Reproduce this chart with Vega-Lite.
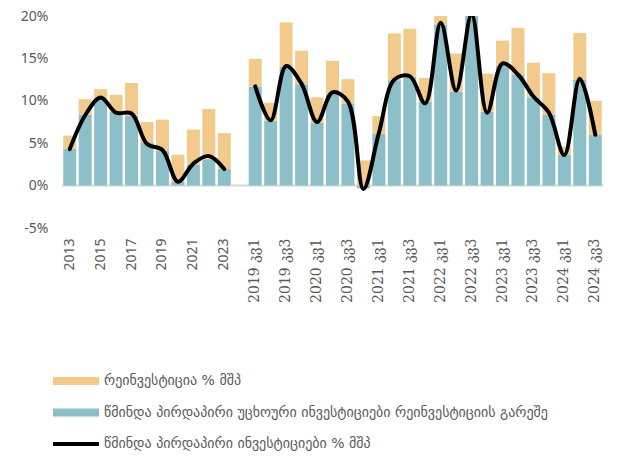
{
  "$schema": "https://vega.github.io/schema/vega-lite/v6.json",
  "autosize": "none",
  "width": 541,
  "height": 212,
  "padding": {"left": 62, "top": 16, "right": 16, "bottom": 229},
  "background": "white",
  "config": {"view": {"stroke": null}},
  "datasets": {
    "bars": [
      {"cat": "2013", "period": "annual", "series": "წმინდა პირდაპირი უცხოური ინვესტიციები რეინვესტიციის გარეშე", "value": 4.35},
      {"cat": "2013", "period": "annual", "series": "რეინვესტიცია % მშპ", "value": 1.55},
      {"cat": "2014", "period": "annual", "series": "წმინდა პირდაპირი უცხოური ინვესტიციები რეინვესტიციის გარეშე", "value": 8.33},
      {"cat": "2014", "period": "annual", "series": "რეინვესტიცია % მშპ", "value": 1.87},
      {"cat": "2015", "period": "annual", "series": "წმინდა პირდაპირი უცხოური ინვესტიციები რეინვესტიციის გარეშე", "value": 10.2},
      {"cat": "2015", "period": "annual", "series": "რეინვესტიცია % მშპ", "value": 1.17},
      {"cat": "2016", "period": "annual", "series": "წმინდა პირდაპირი უცხოური ინვესტიციები რეინვესტიციის გარეშე", "value": 8.7},
      {"cat": "2016", "period": "annual", "series": "რეინვესტიცია % მშპ", "value": 2.0},
      {"cat": "2017", "period": "annual", "series": "წმინდა პირდაპირი უცხოური ინვესტიციები რეინვესტიციის გარეშე", "value": 8.25},
      {"cat": "2017", "period": "annual", "series": "რეინვესტიცია % მშპ", "value": 3.85},
      {"cat": "2018", "period": "annual", "series": "წმინდა პირდაპირი უცხოური ინვესტიციები რეინვესტიციის გარეშე", "value": 5.1},
      {"cat": "2018", "period": "annual", "series": "რეინვესტიცია % მშპ", "value": 2.4},
      {"cat": "2019", "period": "annual", "series": "წმინდა პირდაპირი უცხოური ინვესტიციები რეინვესტიციის გარეშე", "value": 4.08},
      {"cat": "2019", "period": "annual", "series": "რეინვესტიცია % მშპ", "value": 3.7},
      {"cat": "2020", "period": "annual", "series": "წმინდა პირდაპირი უცხოური ინვესტიციები რეინვესტიციის გარეშე", "value": 0.45},
      {"cat": "2020", "period": "annual", "series": "რეინვესტიცია % მშპ", "value": 3.19},
      {"cat": "2021", "period": "annual", "series": "წმინდა პირდაპირი უცხოური ინვესტიციები რეინვესტიციის გარეშე", "value": 2.46},
      {"cat": "2021", "period": "annual", "series": "რეინვესტიცია % მშპ", "value": 4.14},
      {"cat": "2022", "period": "annual", "series": "წმინდა პირდაპირი უცხოური ინვესტიციები რეინვესტიციის გარეშე", "value": 3.1},
      {"cat": "2022", "period": "annual", "series": "რეინვესტიცია % მშპ", "value": 5.94},
      {"cat": "2023", "period": "annual", "series": "წმინდა პირდაპირი უცხოური ინვესტიციები რეინვესტიციის გარეშე", "value": 1.95},
      {"cat": "2023", "period": "annual", "series": "რეინვესტიცია % მშპ", "value": 4.25},
      {"cat": "2019 კვ1", "period": "quarterly", "series": "წმინდა პირდაპირი უცხოური ინვესტიციები რეინვესტიციის გარეშე", "value": 11.7},
      {"cat": "2019 კვ1", "period": "quarterly", "series": "რეინვესტიცია % მშპ", "value": 3.25},
      {"cat": "2019 კვ2", "period": "quarterly", "series": "წმინდა პირდაპირი უცხოური ინვესტიციები რეინვესტიციის გარეშე", "value": 7.66},
      {"cat": "2019 კვ2", "period": "quarterly", "series": "რეინვესტიცია % მშპ", "value": 2.09},
      {"cat": "2019 კვ3", "period": "quarterly", "series": "წმინდა პირდაპირი უცხოური ინვესტიციები რეინვესტიციის გარეშე", "value": 14.04},
      {"cat": "2019 კვ3", "period": "quarterly", "series": "რეინვესტიცია % მშპ", "value": 5.2},
      {"cat": "2019 კვ4", "period": "quarterly", "series": "წმინდა პირდაპირი უცხოური ინვესტიციები რეინვესტიციის გარეშე", "value": 11.96},
      {"cat": "2019 კვ4", "period": "quarterly", "series": "რეინვესტიცია % მშპ", "value": 3.94},
      {"cat": "2020 კვ1", "period": "quarterly", "series": "წმინდა პირდაპირი უცხოური ინვესტიციები რეინვესტიციის გარეშე", "value": 7.39},
      {"cat": "2020 კვ1", "period": "quarterly", "series": "რეინვესტიცია % მშპ", "value": 3.03},
      {"cat": "2020 კვ2", "period": "quarterly", "series": "წმინდა პირდაპირი უცხოური ინვესტიციები რეინვესტიციის გარეშე", "value": 10.85},
      {"cat": "2020 კვ2", "period": "quarterly", "series": "რეინვესტიცია % მშპ", "value": 3.85},
      {"cat": "2020 კვ3", "period": "quarterly", "series": "წმინდა პირდაპირი უცხოური ინვესტიციები რეინვესტიციის გარეშე", "value": 9.67},
      {"cat": "2020 კვ3", "period": "quarterly", "series": "რეინვესტიცია % მშპ", "value": 2.88},
      {"cat": "2020 კვ4", "period": "quarterly", "series": "წმინდა პირდაპირი უცხოური ინვესტიციები რეინვესტიციის გარეშე", "value": -0.33},
      {"cat": "2020 კვ4", "period": "quarterly", "series": "რეინვესტიცია % მშპ", "value": 2.98},
      {"cat": "2021 კვ1", "period": "quarterly", "series": "წმინდა პირდაპირი უცხოური ინვესტიციები რეინვესტიციის გარეშე", "value": 6.12},
      {"cat": "2021 კვ1", "period": "quarterly", "series": "რეინვესტიცია % მშპ", "value": 2.08},
      {"cat": "2021 კვ2", "period": "quarterly", "series": "წმინდა პირდაპირი უცხოური ინვესტიციები რეინვესტიციის გარეშე", "value": 12.43},
      {"cat": "2021 კვ2", "period": "quarterly", "series": "რეინვესტიცია % მშპ", "value": 5.51},
      {"cat": "2021 კვ3", "period": "quarterly", "series": "წმინდა პირდაპირი უცხოური ინვესტიციები რეინვესტიციის გარეშე", "value": 12.85},
      {"cat": "2021 კვ3", "period": "quarterly", "series": "რეინვესტიცია % მშპ", "value": 5.65},
      {"cat": "2021 კვ4", "period": "quarterly", "series": "წმინდა პირდაპირი უცხოური ინვესტიციები რეინვესტიციის გარეშე", "value": 9.9},
      {"cat": "2021 კვ4", "period": "quarterly", "series": "რეინვესტიცია % მშპ", "value": 2.8},
      {"cat": "2022 კვ1", "period": "quarterly", "series": "წმინდა პირდაპირი უცხოური ინვესტიციები რეინვესტიციის გარეშე", "value": 19.0},
      {"cat": "2022 კვ1", "period": "quarterly", "series": "რეინვესტიცია % მშპ", "value": 1.07},
      {"cat": "2022 კვ2", "period": "quarterly", "series": "წმინდა პირდაპირი უცხოური ინვესტიციები რეინვესტიციის გარეშე", "value": 11.1},
      {"cat": "2022 კვ2", "period": "quarterly", "series": "რეინვესტიცია % მშპ", "value": 4.5},
      {"cat": "2022 კვ3", "period": "quarterly", "series": "წმინდა პირდაპირი უცხოური ინვესტიციები რეინვესტიციის გარეშე", "value": 20.3},
      {"cat": "2022 კვ3", "period": "quarterly", "series": "რეინვესტიცია % მშპ", "value": 1.0},
      {"cat": "2022 კვ4", "period": "quarterly", "series": "წმინდა პირდაპირი უცხოური ინვესტიციები რეინვესტიციის გარეშე", "value": 8.72},
      {"cat": "2022 კვ4", "period": "quarterly", "series": "რეინვესტიცია % მშპ", "value": 4.48},
      {"cat": "2023 კვ1", "period": "quarterly", "series": "წმინდა პირდაპირი უცხოური ინვესტიციები რეინვესტიციის გარეშე", "value": 14.16},
      {"cat": "2023 კვ1", "period": "quarterly", "series": "რეინვესტიცია % მშპ", "value": 2.94},
      {"cat": "2023 კვ2", "period": "quarterly", "series": "წმინდა პირდაპირი უცხოური ინვესტიციები რეინვესტიციის გარეშე", "value": 13.1},
      {"cat": "2023 კვ2", "period": "quarterly", "series": "რეინვესტიცია % მშპ", "value": 5.5},
      {"cat": "2023 კვ3", "period": "quarterly", "series": "წმინდა პირდაპირი უცხოური ინვესტიციები რეინვესტიციის გარეშე", "value": 10.4},
      {"cat": "2023 კვ3", "period": "quarterly", "series": "რეინვესტიცია % მშპ", "value": 4.1},
      {"cat": "2023 კვ4", "period": "quarterly", "series": "წმინდა პირდაპირი უცხოური ინვესტიციები რეინვესტიციის გარეშე", "value": 8.33},
      {"cat": "2023 კვ4", "period": "quarterly", "series": "რეინვესტიცია % მშპ", "value": 4.93},
      {"cat": "2024 კვ1", "period": "quarterly", "series": "წმინდა პირდაპირი უცხოური ინვესტიციები რეინვესტიციის გარეშე", "value": 3.6},
      {"cat": "2024 კვ1", "period": "quarterly", "series": "რეინვესტიცია % მშპ", "value": 1.0},
      {"cat": "2024 კვ2", "period": "quarterly", "series": "წმინდა პირდაპირი უცხოური ინვესტიციები რეინვესტიციის გარეშე", "value": 12.47},
      {"cat": "2024 კვ2", "period": "quarterly", "series": "რეინვესტიცია % მშპ", "value": 5.53},
      {"cat": "2024 კვ3", "period": "quarterly", "series": "წმინდა პირდაპირი უცხოური ინვესტიციები რეინვესტიციის გარეშე", "value": 5.97},
      {"cat": "2024 კვ3", "period": "quarterly", "series": "რეინვესტიცია % მშპ", "value": 4.02}
    ],
    "line": [
      {"cat": "2013", "period": "annual", "series": "წმინდა პირდაპირი ინვესტიციები % მშპ", "value": 4.3},
      {"cat": "2014", "period": "annual", "series": "წმინდა პირდაპირი ინვესტიციები % მშპ", "value": 8.3},
      {"cat": "2015", "period": "annual", "series": "წმინდა პირდაპირი ინვესტიციები % მშპ", "value": 10.4},
      {"cat": "2016", "period": "annual", "series": "წმინდა პირდაპირი ინვესტიციები % მშპ", "value": 8.6},
      {"cat": "2017", "period": "annual", "series": "წმინდა პირდაპირი ინვესტიციები % მშპ", "value": 8.5},
      {"cat": "2018", "period": "annual", "series": "წმინდა პირდაპირი ინვესტიციები % მშპ", "value": 4.9},
      {"cat": "2019", "period": "annual", "series": "წმინდა პირდაპირი ინვესტიციები % მშპ", "value": 4.2},
      {"cat": "2020", "period": "annual", "series": "წმინდა პირდაპირი ინვესტიციები % მშპ", "value": 0.45},
      {"cat": "2021", "period": "annual", "series": "წმინდა პირდაპირი ინვესტიციები % მშპ", "value": 2.6},
      {"cat": "2022", "period": "annual", "series": "წმინდა პირდაპირი ინვესტიციები % მშპ", "value": 3.5},
      {"cat": "2023", "period": "annual", "series": "წმინდა პირდაპირი ინვესტიციები % მშპ", "value": 1.95},
      {"cat": "2019 კვ1", "period": "quarterly", "series": "წმინდა პირდაპირი ინვესტიციები % მშპ", "value": 11.7},
      {"cat": "2019 კვ2", "period": "quarterly", "series": "წმინდა პირდაპირი ინვესტიციები % მშპ", "value": 7.7},
      {"cat": "2019 კვ3", "period": "quarterly", "series": "წმინდა პირდაპირი ინვესტიციები % მშპ", "value": 14.1},
      {"cat": "2019 კვ4", "period": "quarterly", "series": "წმინდა პირდაპირი ინვესტიციები % მშპ", "value": 12.0},
      {"cat": "2020 კვ1", "period": "quarterly", "series": "წმინდა პირდაპირი ინვესტიციები % მშპ", "value": 7.5},
      {"cat": "2020 კვ2", "period": "quarterly", "series": "წმინდა პირდაპირი ინვესტიციები % მშპ", "value": 11.0},
      {"cat": "2020 კვ3", "period": "quarterly", "series": "წმინდა პირდაპირი ინვესტიციები % მშპ", "value": 9.9},
      {"cat": "2020 კვ4", "period": "quarterly", "series": "წმინდა პირდაპირი ინვესტიციები % მშპ", "value": -0.4},
      {"cat": "2021 კვ1", "period": "quarterly", "series": "წმინდა პირდაპირი ინვესტიციები % მშპ", "value": 6.2},
      {"cat": "2021 კვ2", "period": "quarterly", "series": "წმინდა პირდაპირი ინვესტიციები % მშპ", "value": 12.5},
      {"cat": "2021 კვ3", "period": "quarterly", "series": "წმინდა პირდაპირი ინვესტიციები % მშპ", "value": 12.9},
      {"cat": "2021 კვ4", "period": "quarterly", "series": "წმინდა პირდაპირი ინვესტიციები % მშპ", "value": 9.7},
      {"cat": "2022 კვ1", "period": "quarterly", "series": "წმინდა პირდაპირი ინვესტიციები % მშპ", "value": 19.2},
      {"cat": "2022 კვ2", "period": "quarterly", "series": "წმინდა პირდაპირი ინვესტიციები % მშპ", "value": 11.2},
      {"cat": "2022 კვ3", "period": "quarterly", "series": "წმინდა პირდაპირი ინვესტიციები % მშპ", "value": 20.2},
      {"cat": "2022 კვ4", "period": "quarterly", "series": "წმინდა პირდაპირი ინვესტიციები % მშპ", "value": 8.6},
      {"cat": "2023 კვ1", "period": "quarterly", "series": "წმინდა პირდაპირი ინვესტიციები % მშპ", "value": 14.4},
      {"cat": "2023 კვ2", "period": "quarterly", "series": "წმინდა პირდაპირი ინვესტიციები % მშპ", "value": 13.1},
      {"cat": "2023 კვ3", "period": "quarterly", "series": "წმინდა პირდაპირი ინვესტიციები % მშპ", "value": 10.5},
      {"cat": "2023 კვ4", "period": "quarterly", "series": "წმინდა პირდაპირი ინვესტიციები % მშპ", "value": 8.6},
      {"cat": "2024 კვ1", "period": "quarterly", "series": "წმინდა პირდაპირი ინვესტიციები % მშპ", "value": 3.6},
      {"cat": "2024 კვ2", "period": "quarterly", "series": "წმინდა პირდაპირი ინვესტიციები % მშპ", "value": 12.6},
      {"cat": "2024 კვ3", "period": "quarterly", "series": "წმინდა პირდაპირი ინვესტიციები % მშპ", "value": 6.0}
    ]
  },
  "encoding": {
    "x": {
      "field": "cat",
      "type": "nominal",
      "title": null,
      "scale": {
        "domain": ["2013", "2014", "2015", "2016", "2017", "2018", "2019", "2020", "2021", "2022", "2023", " ",
          "2019 კვ1", "2019 კვ2", "2019 კვ3", "2019 კვ4", "2020 კვ1", "2020 კვ2", "2020 კვ3", "2020 კვ4",
          "2021 კვ1", "2021 კვ2", "2021 კვ3", "2021 კვ4", "2022 კვ1", "2022 კვ2", "2022 კვ3", "2022 კვ4",
          "2023 კვ1", "2023 კვ2", "2023 კვ3", "2023 კვ4", "2024 კვ1", "2024 კვ2", "2024 კვ3"],
        "paddingInner": 0.16,
        "paddingOuter": 0.08
      },
      "axis": {
        "values": ["2013", "2015", "2017", "2019", "2021", "2023", "2019 კვ1", "2019 კვ3", "2020 კვ1", "2020 კვ3", "2021 კვ1", "2021 კვ3", "2022 კვ1", "2022 კვ3", "2023 კვ1", "2023 კვ3", "2024 კვ1", "2024 კვ3"],
        "labelAngle": -90,
        "domain": false,
        "ticks": false,
        "labelPadding": 10,
        "labelFontSize": 14,
        "labelColor": "#595959",
        "labelFont": {"condition": {"test": "length(datum.value) > 4", "value": "DejaVu Serif"}, "value": "Noto Sans"},
        "labelOverlap": false
      }
    }
  },
  "layer": [
    {
      "data": {"values": [{"zero": 0}]},
      "mark": {"type": "rule", "color": "#D9D9D9", "strokeWidth": 2},
      "encoding": {"x": null, "y": {"field": "zero", "type": "quantitative"}}
    },
    {
      "data": {"name": "bars"},
      "mark": {"type": "bar", "clip": true},
      "encoding": {
        "y": {
          "field": "value",
          "type": "quantitative",
          "stack": "zero",
          "title": null,
          "scale": {"domain": [-5, 20], "nice": false, "zero": false},
          "axis": {
            "values": [-5, 0, 5, 10, 15, 20],
            "labelExpr": "datum.value + '%'",
            "grid": false,
            "domain": false,
            "ticks": false,
            "labelPadding": 14,
            "labelFont": "Noto Sans",
            "labelFontSize": 14,
            "labelColor": "#595959"
          }
        },
        "color": {
          "field": "series",
          "type": "nominal",
          "scale": {
            "domain": ["რეინვესტიცია % მშპ", "წმინდა პირდაპირი უცხოური ინვესტიციები რეინვესტიციის გარეშე", "წმინდა პირდაპირი ინვესტიციები % მშპ"],
            "range": ["#F2CB8C", "#8DBFC9", "#000000"]
          },
          "legend": {
            "title": null,
            "orient": "none",
            "legendX": -9,
            "legendY": 342,
            "direction": "vertical",
            "padding": 0,
            "symbolSize": 2116,
            "labelOffset": 5,
            "rowPadding": 1.5,
            "labelFont": "DejaVu Sans",
            "labelFontSize": 14,
            "labelColor": "#595959",
            "labelLimit": 600,
            "encode": {
              "symbols": {
                "update": {
                  "shape": {"signal": "datum.value === 'წმინდა პირდაპირი ინვესტიციები % მშპ' ? 'M-1,-0.09H1V0.09H-1Z' : 'M-1,-0.17H1V0.17H-1Z'"},
                  "fill": {"scale": "color", "field": "value"},
                  "stroke": {"value": "transparent"},
                  "strokeWidth": {"value": 0},
                  "opacity": {"value": 1},
                  "fillOpacity": {"value": 1}
                }
              }
            }
          }
        },
        "order": {"field": "series", "sort": "descending"}
      }
    },
    {
      "data": {"name": "line"},
      "mark": {"type": "line", "interpolate": "catmull-rom", "strokeWidth": 4, "clip": true, "strokeCap": "round"},
      "encoding": {
        "y": {"field": "value", "type": "quantitative"},
        "color": {"field": "series", "type": "nominal"},
        "detail": {"field": "period"}
      }
    }
  ]
}
